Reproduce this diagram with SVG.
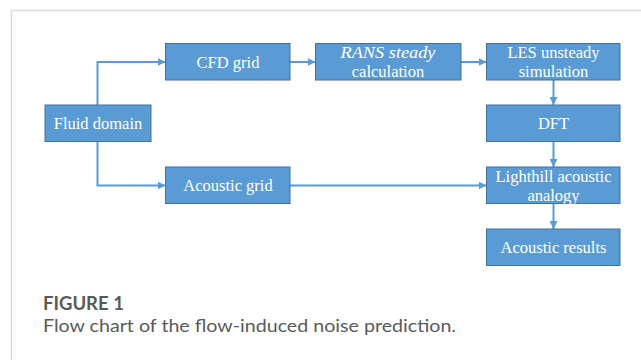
<svg xmlns="http://www.w3.org/2000/svg" width="641" height="360" viewBox="0 0 641 360">
  <style>
    .box { fill: #5b9bd5; stroke: #41719c; stroke-width: 1; }
    .lbl { font-family: "Liberation Serif", "Times New Roman", serif; font-size: 16.5px; fill: #ffffff; text-anchor: middle; }
    .it { font-style: italic; }
    .conn { fill: none; stroke: #5b9bd5; stroke-width: 2; }
    .cap { font-family: Lato, "Open Sans", sans-serif; fill: #5a5a5a; }
  </style>
  <defs>
    <marker id="arr" viewBox="0 0 10 10" refX="10" refY="5" markerWidth="4" markerHeight="4" orient="auto" markerUnits="strokeWidth">
      <path d="M0,0 L10,5 L0,10 z" fill="#5b9bd5"/>
    </marker>
  </defs>
  <rect x="0" y="0" width="641" height="360" fill="#ffffff"/>
  <path d="M11.5,360 L11.5,10.5 L641,10.5" fill="none" stroke="#d9d9d9" stroke-width="1.5"/>

  <g id="connectors">
    <path class="conn" d="M97.5,105 L97.5,62 L165.5,62" marker-end="url(#arr)"/>
    <path class="conn" d="M290,62 L315.5,62" marker-end="url(#arr)"/>
    <path class="conn" d="M461,62 L486.5,62" marker-end="url(#arr)"/>
    <path class="conn" d="M553.5,80 L553.5,105" marker-end="url(#arr)"/>
    <path class="conn" d="M97.5,142 L97.5,185.5 L165.5,185.5" marker-end="url(#arr)"/>
    <path class="conn" d="M290,185.5 L486.5,185.5" marker-end="url(#arr)"/>
    <path class="conn" d="M553.5,141.5 L553.5,167" marker-end="url(#arr)"/>
    <path class="conn" d="M553.5,203.5 L553.5,229" marker-end="url(#arr)"/>
  </g>

  <g id="fluid-domain">
    <rect class="box" x="45" y="105" width="106" height="36.5"/>
    <text class="lbl" x="98" y="128.5">Fluid domain</text>
  </g>
  <g id="cfd-grid">
    <rect class="box" x="165.5" y="43.5" width="124.5" height="36.5"/>
    <text class="lbl" x="228" y="67.5">CFD grid</text>
  </g>
  <g id="rans">
    <rect class="box" x="315.5" y="43.5" width="145.5" height="36.5"/>
    <text class="lbl it" x="388" y="57.5" textLength="95" lengthAdjust="spacingAndGlyphs">RANS steady</text>
    <text class="lbl" x="388" y="76.5">calculation</text>
  </g>
  <g id="les">
    <rect class="box" x="486.5" y="43.5" width="133.5" height="36.5"/>
    <text class="lbl" x="553.5" y="57.5">LES unsteady</text>
    <text class="lbl" x="553.5" y="76.5">simulation</text>
  </g>
  <g id="dft">
    <rect class="box" x="486.5" y="105" width="133.5" height="36.5"/>
    <text class="lbl" x="553.5" y="128.5">DFT</text>
  </g>
  <g id="acoustic-grid">
    <rect class="box" x="165.5" y="167" width="124.5" height="36.5"/>
    <text class="lbl" x="228" y="190.5">Acoustic grid</text>
  </g>
  <g id="lighthill">
    <rect class="box" x="486.5" y="167" width="133.5" height="36.5"/>
    <text class="lbl" x="553.5" y="181.5">Lighthill acoustic</text>
    <text class="lbl" x="553.5" y="200.5">analogy</text>
  </g>
  <g id="acoustic-results">
    <rect class="box" x="486.5" y="229" width="133.5" height="36.5"/>
    <text class="lbl" x="553.5" y="252.5">Acoustic results</text>
  </g>

  <text class="cap" x="43" y="310" font-size="18.5" font-weight="bold">FIGURE 1</text>
  <text class="cap" x="43" y="331.5" font-size="18" fill="#666666" textLength="413" lengthAdjust="spacingAndGlyphs">Flow chart of the flow-induced noise prediction.</text>
</svg>
